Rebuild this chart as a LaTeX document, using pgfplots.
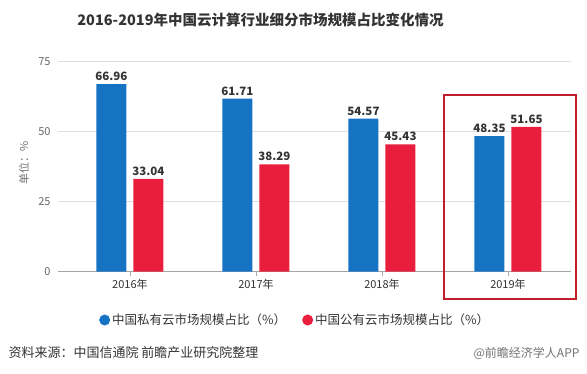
\documentclass[border=0pt]{standalone}
\usepackage{pgfplots}
\pgfplotsset{compat=1.18}
\usepackage{fontspec}
\setmainfont{Noto Sans CJK SC}
\definecolor{cblue}{HTML}{1673C3}
\definecolor{cred}{HTML}{E91E3C}
\definecolor{cbox}{HTML}{C01F2A}
\definecolor{ctxt}{HTML}{333333}
\begin{document}
\begin{tikzpicture}
\useasboundingbox (0pt,0pt) rectangle (587pt,373pt);
\begin{axis}[
  at={(58pt,101.5pt)}, anchor=south west,
  scale only axis, width=513pt, height=210pt,
  xmin=-0.571, xmax=3.5, ymin=0, ymax=75,
  ybar=7pt, bar width=30pt,
  xtick={0,1,2,3}, xticklabels={2016年,2017年,2018年,2019年},
  ytick={0,25,50,75},
  ymajorgrids, grid style={draw=black!13, line width=0.8pt},
  axis lines*=left,
  y axis line style={draw=none},
  x axis line style={draw=black!35, line width=0.8pt},
  tick align=outside, major tick length=4pt,
  xtick style={draw=black!35, line width=0.8pt},
  ytick style={draw=none},
  /pgf/number format/assume math mode=true,
  /pgf/number format/fixed, /pgf/number format/precision=2, /pgf/number format/fixed zerofill,
  yticklabel style={font=\fontsize{11}{11}\selectfont, text=black!60, /pgf/number format/precision=0, /pgf/number format/fixed zerofill=false},
  xticklabel style={font=\fontsize{11}{11}\selectfont, text=ctxt},
  nodes near coords,
  nodes near coords style={font=\bfseries\fontsize{11.5}{11.5}\selectfont, text=ctxt},
  legend columns=2,
  legend image code/.code={\fill[#1] (5.5pt,0pt) circle (5.5pt);},
  legend style={at={(axis description cs:0.074,-0.231)}, anchor=west, draw=none, fill=none,
    font=\fontsize{12.5}{14}\selectfont, text=ctxt,
    /tikz/every even column/.append style={column sep=14pt}},
]
\addplot[fill=cblue, draw=none] coordinates {(0,66.96) (1,61.71) (2,54.57) (3,48.35)};
\addplot[fill=cred, draw=none] coordinates {(0,33.04) (1,38.29) (2,45.43) (3,51.65)};
\legend{中国私有云市场规模占比（\%）, 中国公有云市场规模占比（\%）}
\end{axis}
\node[font=\bfseries\fontsize{14.5}{15}\selectfont, text=ctxt] at (260.5pt,353pt) {2016-2019年中国云计算行业细分市场规模占比变化情况};
\node[rotate=90, font=\fontsize{11}{11}\selectfont, text=black!55] at (24pt,210pt) {单位：\%};
\draw[cbox, line width=2pt] (444pt,278pt) rectangle (576pt,74pt);
\node[anchor=west, font=\fontsize{13}{14}\selectfont, text=ctxt] at (5pt,20pt) {资料来源：中国信通院 前瞻产业研究院整理};
\node[anchor=east, font=\fontsize{12}{13}\selectfont, text=black!55] at (583pt,20pt) {@前瞻经济学人APP};
\end{tikzpicture}
\end{document}
